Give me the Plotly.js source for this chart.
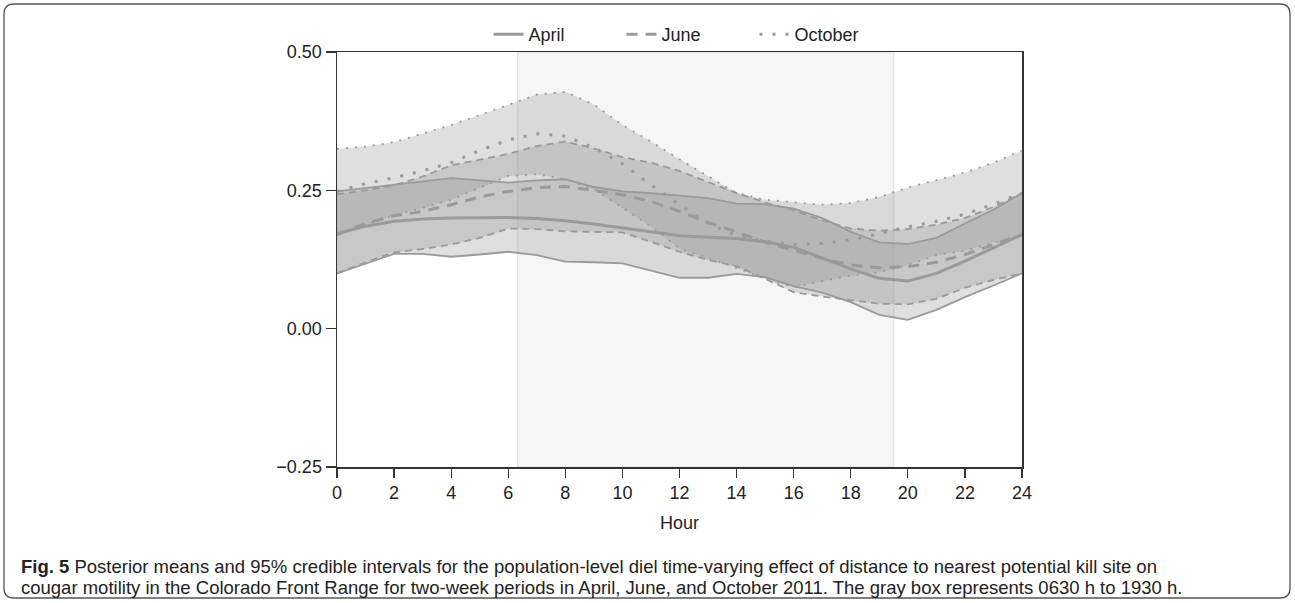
<!DOCTYPE html>
<html><head><meta charset="utf-8">
<script src="https://cdn.plot.ly/plotly-3.0.1.min.js"></script>
<style>html,body{margin:0;padding:0;background:#fff}#chart{width:1295px;height:603px}</style>
</head><body><div id="chart"></div>
<script>
// Hours of the day
const hours = [0,1,2,3,4,5,6,7,8,9,10,11,12,13,14,15,16,17,18,19,20,21,22,23,24];

// April
const aprilUpper = [0.248,0.254,0.259,0.266,0.272,0.268,0.264,0.268,0.270,0.256,0.248,0.245,0.241,0.236,0.226,0.225,0.217,0.200,0.175,0.156,0.153,0.164,0.190,0.215,0.245];
const aprilMean  = [0.172,0.185,0.194,0.198,0.200,0.200,0.201,0.199,0.195,0.189,0.182,0.174,0.168,0.165,0.163,0.157,0.147,0.128,0.108,0.091,0.086,0.100,0.122,0.146,0.170];
const aprilLower = [0.100,0.118,0.135,0.135,0.130,0.134,0.139,0.133,0.121,0.120,0.118,0.105,0.092,0.092,0.099,0.093,0.077,0.065,0.048,0.025,0.016,0.034,0.057,0.078,0.100];

// June
const juneUpper = [0.243,0.250,0.259,0.275,0.295,0.305,0.316,0.330,0.338,0.326,0.310,0.300,0.285,0.265,0.245,0.228,0.214,0.196,0.181,0.177,0.180,0.188,0.200,0.220,0.245];
const juneMean  = [0.170,0.190,0.204,0.212,0.224,0.238,0.248,0.255,0.257,0.250,0.242,0.230,0.212,0.192,0.175,0.156,0.142,0.127,0.115,0.110,0.112,0.120,0.134,0.152,0.170];
const juneLower = [0.100,0.120,0.138,0.144,0.152,0.164,0.181,0.180,0.176,0.175,0.174,0.157,0.139,0.124,0.113,0.090,0.066,0.058,0.051,0.045,0.044,0.054,0.074,0.088,0.100];

// October
const octUpper = [0.325,0.329,0.337,0.352,0.368,0.386,0.404,0.423,0.428,0.405,0.368,0.338,0.306,0.275,0.245,0.233,0.229,0.224,0.227,0.238,0.255,0.268,0.282,0.300,0.322];
const octMean  = [0.248,0.262,0.273,0.285,0.300,0.322,0.341,0.352,0.348,0.327,0.298,0.260,0.224,0.190,0.168,0.158,0.152,0.154,0.160,0.172,0.184,0.194,0.207,0.225,0.245];
const octLower = [0.170,0.187,0.205,0.218,0.233,0.255,0.276,0.279,0.270,0.252,0.218,0.185,0.145,0.127,0.110,0.090,0.075,0.086,0.096,0.102,0.115,0.133,0.141,0.155,0.170];

const months = ['April','June','October'];
const xTicks = [0,2,4,6,8,10,12,14,16,18,20,22,24];
const yTicks = [-0.25,0,0.25,0.5];
const yTickText = ['\u22120.25','0.00','0.25','0.50'];
const dayStart = 6.33, dayEnd = 19.5;

const captionLine1 = '<b>Fig. 5</b> Posterior means and 95% credible intervals for the population-level diel time-varying effect of distance to nearest potential kill site on';
const captionLine2 = 'cougar motility in the Colorado Front Range for two-week periods in April, June, and October 2011. The gray box represents 0630 h to 1930 h.';

const series = [
  {name: months[0], up: aprilUpper, mean: aprilMean, lo: aprilLower, dashMean: 'solid', dashBound: 'solid', wBound: 1.8},
  {name: months[1], up: juneUpper, mean: juneMean, lo: juneLower, dashMean: '11px,8px', dashBound: '7px,5px', wBound: 1.8},
  {name: months[2], up: octUpper, mean: octMean, lo: octLower, dashMean: '3px,10px', dashBound: '2px,7px', wBound: 1.8}
];

const lineColor = '#9a9a9a';
const traces = [];
series.forEach(s => {
  traces.push({
    x: hours.concat(hours.slice().reverse()),
    y: s.up.concat(s.lo.slice().reverse()),
    fill: 'toself', fillcolor: 'rgba(150,150,150,0.30)',
    line: {width: 0}, mode: 'lines', showlegend: false, hoverinfo: 'skip'
  });
});
series.forEach(s => {
  traces.push({x: hours, y: s.up, mode: 'lines', showlegend: false,
    line: {color: lineColor, width: s.wBound, dash: s.dashBound}});
  traces.push({x: hours, y: s.lo, mode: 'lines', showlegend: false,
    line: {color: lineColor, width: s.wBound, dash: s.dashBound}});
});
series.forEach(s => {
  traces.push({x: hours, y: s.mean, mode: 'lines', name: s.name,
    line: {color: lineColor, width: 3, dash: s.dashMean}});
});

// pixel -> paper helpers for decorations outside plot area
const L = 337, R = 1022, T = 52, B = 467;
const px = v => (v - L) / (R - L);
const py = v => (B - v) / (B - T);
function roundRect(x0, y0, x1, y1, r) {
  const P = (x, y) => px(x) + ',' + py(y);
  return 'M' + P(x0 + r, y0) + ' L' + P(x1 - r, y0) + ' Q' + P(x1, y0) + ' ' + P(x1, y0 + r) +
    ' L' + P(x1, y1 - r) + ' Q' + P(x1, y1) + ' ' + P(x1 - r, y1) +
    ' L' + P(x0 + r, y1) + ' Q' + P(x0, y1) + ' ' + P(x0, y1 - r) +
    ' L' + P(x0, y0 + r) + ' Q' + P(x0, y0) + ' ' + P(x0 + r, y0) + ' Z';
}

const fontFam = '"Liberation Sans", Arial, sans-serif';
const layout = {
  width: 1295, height: 603,
  margin: {l: L, r: 1295 - R, t: T, b: 603 - B, pad: 0},
  paper_bgcolor: '#ffffff', plot_bgcolor: '#ffffff',
  font: {family: fontFam, size: 18, color: '#222'},
  showlegend: true,
  legend: {orientation: 'h', x: px(688), xanchor: 'center', y: py(53), yanchor: 'bottom',
    font: {size: 18, color: '#222'}, bgcolor: 'rgba(0,0,0,0)', entrywidth: 88, entrywidthmode: 'pixels'},
  xaxis: {range: [0, 24], tickvals: xTicks, ticks: 'outside', ticklen: 9, tickwidth: 1.3,
    tickcolor: '#333', showline: true, linecolor: '#333', linewidth: 1.5, mirror: true,
    showgrid: false, zeroline: false, tickfont: {size: 18, color: '#222'},
    title: {text: 'Hour', font: {size: 18, color: '#222'}, standoff: 14}},
  yaxis: {range: [-0.25, 0.5], tickvals: yTicks, ticktext: yTickText, ticks: 'outside', ticklen: 10,
    tickwidth: 1.3, tickcolor: '#333', showline: true, linecolor: '#333', linewidth: 1.5, mirror: true,
    showgrid: false, zeroline: false, tickfont: {size: 18, color: '#222'}},
  shapes: [
    {type: 'rect', xref: 'x', yref: 'paper', x0: dayStart, x1: dayEnd, y0: 0, y1: 1,
      fillcolor: '#f6f6f6', line: {color: '#e4e4e4', width: 1.5}, layer: 'below'},
    {type: 'path', xref: 'paper', yref: 'paper', path: roundRect(4, 4, 1290, 598, 10),
      line: {color: '#555', width: 1.3}, fillcolor: 'rgba(0,0,0,0)'}
  ],
  annotations: [
    {xref: 'paper', yref: 'paper', x: px(19), y: py(566), xanchor: 'left', yanchor: 'middle',
      text: captionLine1, showarrow: false, align: 'left', font: {size: 18.5, color: '#222', family: fontFam}},
    {xref: 'paper', yref: 'paper', x: px(19), y: py(587), xanchor: 'left', yanchor: 'middle',
      text: captionLine2, showarrow: false, align: 'left', font: {size: 18.5, color: '#222', family: fontFam}}
  ]
};

Plotly.newPlot('chart', traces, layout, {displayModeBar: false, staticPlot: true});
</script></body></html>
